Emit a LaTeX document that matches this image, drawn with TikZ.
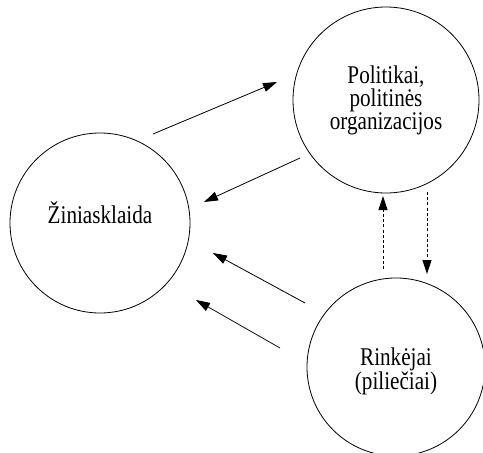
\documentclass[tikz,border=0pt]{standalone}
\usepackage{fontspec}
\setmainfont{Liberation Serif}
\newfontfamily\labelfont{Liberation Serif}[FakeStretch=0.83]
\usetikzlibrary{arrows.meta}
\tikzset{
  actor/.style={draw, circle, line width=0.8pt, inner sep=0pt},
  txt/.style={align=center, inner sep=0pt,
              font=\labelfont\fontsize{25.5}{23}\selectfont},
  arrow/.style={-{Triangle[length=14pt,width=9pt]}, line width=0.8pt},
  arrowdash/.style={arrow, dash pattern=on 3pt off 2.2pt},
}
\begin{document}
\begin{tikzpicture}[x=1pt, y=-1pt]
  \useasboundingbox (0,0) rectangle (483,453);
  \node[actor, minimum size=180pt] (media) at (100,223) {};
  \node[actor, minimum size=186pt] (pol) at (386,100) {};
  \node[actor, minimum size=178pt] (voters) at (396,367) {};
  \node[txt] (mediatxt) at (100,213) {Žiniasklaida};
  \node[txt] (poltxt) at (386,100) {Politikai,\\politinės\\organizacijos};
  \node[txt] (voterstxt) at (396,371) {Rinkėjai\\(piliečiai)};
  % arrow ends
  \coordinate (mp1) at (153,134);
  \coordinate (mp2) at (277,82);
  \coordinate (pm1) at (300,158);
  \coordinate (pm2) at (204,202);
  \coordinate (vp1) at (383,269);
  \coordinate (vp2) at (383,196);
  \coordinate (pv1) at (427,192);
  \coordinate (pv2) at (427,274);
  \coordinate (vm1) at (305,303);
  \coordinate (vm2) at (213,253);
  \coordinate (vn1) at (280,348);
  \coordinate (vn2) at (196,300);
  \draw[arrow] (mp1) -- (mp2);
  \draw[arrow] (pm1) -- (pm2);
  \draw[arrowdash] (vp1) -- (vp2);
  \draw[arrowdash] (pv1) -- (pv2);
  \draw[arrow] (vm1) -- (vm2);
  \draw[arrow] (vn1) -- (vn2);
\end{tikzpicture}
\end{document}
